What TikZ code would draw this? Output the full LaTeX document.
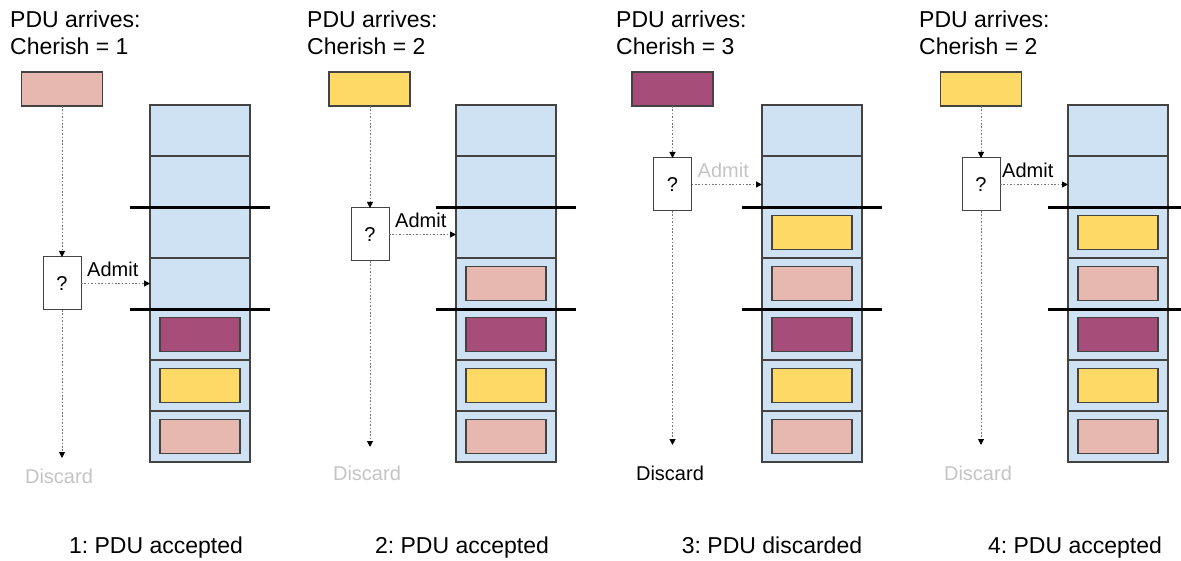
\documentclass[tikz,border=0pt]{standalone}
\usepackage{fontspec}
\setmainfont{Liberation Sans}
\usetikzlibrary{arrows.meta}
\definecolor{pinkq}{HTML}{E6B8AF}
\definecolor{yelq}{HTML}{FFD966}
\definecolor{purq}{HTML}{A64D79}
\definecolor{blueq}{HTML}{CFE2F3}
\definecolor{edgeq}{HTML}{434343}
\definecolor{fadeq}{HTML}{C4C4C4}
\definecolor{dotq}{HTML}{767676}
\tikzset{
  cell/.style={draw=edgeq, line width=1.1pt, fill=blueq, minimum width=100pt, minimum height=51pt, inner sep=0pt, outer sep=0pt},
  pkt/.style={draw=edgeq, line width=1.1pt, minimum width=80pt, minimum height=34pt, inner sep=0pt, outer sep=0pt},
  qbox/.style={draw=edgeq, line width=1pt, fill=white, minimum width=38pt, minimum height=53pt, inner sep=0pt, outer sep=0pt, font=\fontsize{20}{24}\selectfont},
  thresh/.style={line width=3.3pt, black},
  flow/.style={dotq, line width=1pt, dash pattern=on 1.6pt off 1.8pt, -{Triangle[length=6pt,width=6pt,fill=black,color=black]}},
  big/.style={font=\fontsize{23}{27}\selectfont\frenchspacing, inner sep=0pt, anchor=base west},
  captxt/.style={font=\fontsize{23}{27}\selectfont\frenchspacing, inner sep=0pt, anchor=base},
  lbl/.style={font=\fontsize{20}{24}\selectfont, inner sep=0pt},
}
\begin{document}
\begin{tikzpicture}[x=1pt, y=-1pt]
\useasboundingbox (0,0) rectangle (1181,561);
% queues
\foreach \i/\qx in {1/200,2/506,3/812,4/1118}{
  \foreach \k in {1,...,7}{
    \node[cell] (q\i c\k) at (\qx,{130.5+51*(\k-1)}) {};
  }
}
% packets in queues
\foreach \i/\k/\c in {1/5/purq,1/6/yelq,1/7/pinkq,
                      2/4/pinkq,2/5/purq,2/6/yelq,2/7/pinkq,
                      3/3/yelq,3/4/pinkq,3/5/purq,3/6/yelq,3/7/pinkq,
                      4/3/yelq,4/4/pinkq,4/5/purq,4/6/yelq,4/7/pinkq}{
  \node[pkt, fill=\c] (p\i k\k) at (q\i c\k) {};
}
% threshold lines
\foreach \i in {1,2,3,4}{
  \draw[thresh] ([xshift=-20pt,yshift=-0.5pt]q\i c3.north west) -- ([xshift=20pt,yshift=-0.5pt]q\i c3.north east);
  \draw[thresh] ([xshift=-20pt,yshift=-0.5pt]q\i c5.north west) -- ([xshift=20pt,yshift=-0.5pt]q\i c5.north east);
}
% titles
\node[big] (t1a) at (10,28) {PDU arrives:};
\node[big] (t1b) at (10,55) {Cherish = 1};
\node[big] (t2a) at (307,28) {PDU arrives:};
\node[big] (t2b) at (307,55) {Cherish = 2};
\node[big] (t3a) at (616,28) {PDU arrives:};
\node[big] (t3b) at (616,55) {Cherish = 3};
\node[big] (t4a) at (919,28) {PDU arrives:};
\node[big] (t4b) at (919,55) {Cherish = 2};
% arriving PDUs
\node[pkt, fill=pinkq, minimum width=81pt, minimum height=34pt] (pdu1) at (62,89) {};
\node[pkt, fill=yelq, minimum width=81pt, minimum height=34pt] (pdu2) at (369.5,89) {};
\node[pkt, fill=purq, minimum width=81pt, minimum height=34pt] (pdu3) at (672.5,89) {};
\node[pkt, fill=yelq, minimum width=81pt, minimum height=34pt] (pdu4) at (981,89) {};
% decision boxes
\node[qbox] (qb1) at (62,283.5) {?};
\node[qbox] (qb2) at (370,234.5) {?};
\node[qbox] (qb3) at (672.5,184.5) {?};
\node[qbox] (qb4) at (981,184.5) {?};
% discard end points
\coordinate (de1) at (62,458);
\coordinate (de2) at (370,447);
\coordinate (de3) at (672.5,445);
\coordinate (de4) at (981,445);
% connectors
\foreach \i in {1,2,3,4}{
  \draw[flow] (pdu\i.south -| qb\i.north) -- (qb\i.north);
  \draw[flow] (qb\i.south) -- (de\i);
}
\draw[flow] (qb1.east) -- (qb1.east -| q1c4.west);
\draw[flow] (qb2.east) -- (qb2.east -| q2c3.west);
\draw[flow] (qb3.east) -- (qb3.east -| q3c2.west);
\draw[flow] (qb4.east) -- (qb4.east -| q4c2.west);
% admit labels
\node[lbl, anchor=base west] (ad1) at ([xshift=6pt,yshift=7pt]qb1.east) {Admit};
\node[lbl, anchor=base west] (ad2) at ([xshift=6pt,yshift=7pt]qb2.east) {Admit};
\node[lbl, anchor=base west, fadeq] (ad3) at ([xshift=6pt,yshift=7pt]qb3.east) {Admit};
\node[lbl, anchor=base west] (ad4) at ([xshift=2pt,yshift=7pt]qb4.east) {Admit};
% discard labels
\node[lbl, fadeq] (dc1) at (59,476) {Discard};
\node[lbl, fadeq] (dc2) at (367,473) {Discard};
\node[lbl] (dc3) at (670,473) {Discard};
\node[lbl, fadeq] (dc4) at (978,473) {Discard};
% captions
\node[captxt] (c1) at (156,553) {1: PDU accepted};
\node[captxt] (c2) at (462,553) {2: PDU accepted};
\node[captxt] (c3) at (772,553) {3: PDU discarded};
\node[captxt] (c4) at (1075,553) {4: PDU accepted};
\end{tikzpicture}
\end{document}
